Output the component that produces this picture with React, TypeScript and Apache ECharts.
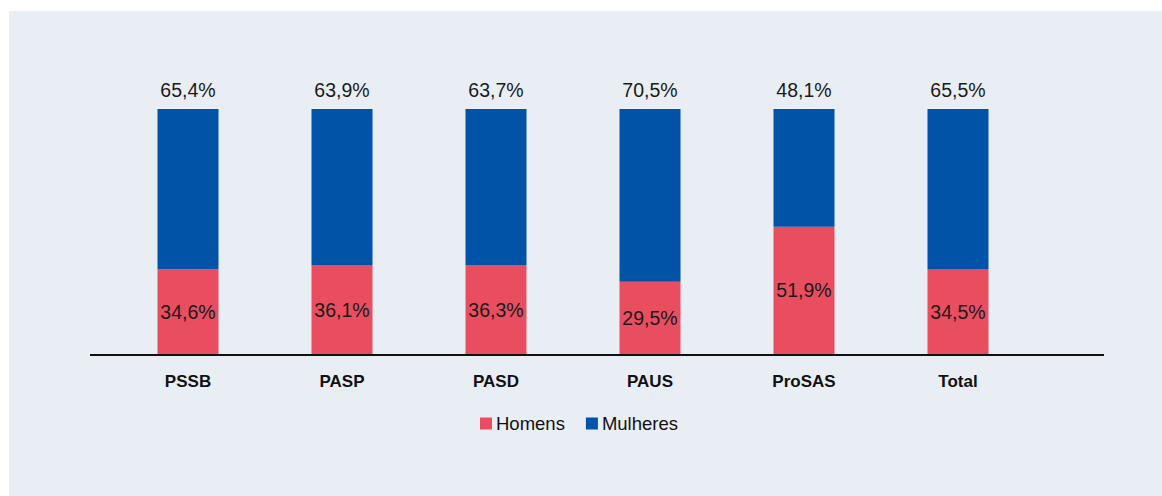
import React, { useEffect, useRef } from "react";
import * as echarts from "echarts";

const categories = ["PSSB", "PASP", "PASD", "PAUS", "ProSAS", "Total"];
const homens = [34.6, 36.1, 36.3, 29.5, 51.9, 34.5];
const mulheres = [65.4, 63.9, 63.7, 70.5, 48.1, 65.5];
const seriesNames = ["Homens", "Mulheres"];

const fmt = (v: number) => v.toFixed(1).replace(".", ",") + "%";

export default function App() {
  const ref = useRef<HTMLDivElement>(null);
  useEffect(() => {
    if (!ref.current) return;
    const chart = echarts.init(ref.current, null, { renderer: "svg" });
    const font = "'Liberation Sans', Arial, sans-serif";
    chart.setOption({
      animation: false,
      backgroundColor: "#ffffff",
      textStyle: { fontFamily: font },
      graphic: [
        {
          type: "rect",
          z: -10,
          shape: { x: 9, y: 11, width: 1153, height: 485 },
          style: { fill: "#e9eef5" },
        },
        {
          type: "line",
          z: 10,
          shape: { x1: 90, y1: 355, x2: 1104, y2: 355 },
          style: { stroke: "#111111", lineWidth: 2 },
        },
      ],
      grid: { left: 111, right: 127, top: 109, bottom: 142 },
      legend: {
        left: 475,
        top: 409,
        icon: "rect",
        itemWidth: 12,
        itemHeight: 12,
        itemGap: 21,
        textStyle: { fontSize: 18.5, color: "#111111", fontFamily: font, padding: [0, 0, 0, -1] },
        data: seriesNames,
      },
      xAxis: {
        type: "category",
        data: categories,
        axisLine: { show: false },
        axisTick: { show: false },
        axisLabel: {
          margin: 19,
          fontSize: 17,
          fontWeight: "bold",
          color: "#111111",
          fontFamily: font,
        },
      },
      yAxis: {
        type: "value",
        min: 0,
        max: 100,
        show: false,
        splitLine: { show: false },
      },
      series: [
        {
          name: seriesNames[0],
          type: "bar",
          stack: "total",
          barWidth: 61,
          data: homens,
          itemStyle: { color: "#e94e60" },
          label: {
            show: true,
            position: "inside",
            fontSize: 19.5,
            color: "#1a1a1a",
            fontFamily: font,
            formatter: (p: any) => fmt(p.value),
          },
        },
        {
          name: seriesNames[1],
          type: "bar",
          stack: "total",
          barWidth: 61,
          data: mulheres,
          itemStyle: { color: "#0053a6" },
          label: {
            show: true,
            position: "top",
            distance: 9,
            fontSize: 19.5,
            color: "#1a1a1a",
            fontFamily: font,
            formatter: (p: any) => fmt(p.value),
          },
        },
      ],
    });
    return () => chart.dispose();
  }, []);
  return (
    <div
      ref={ref}
      style={{ position: "absolute", left: 0, top: 0, width: 1162, height: 496 }}
    />
  );
}
